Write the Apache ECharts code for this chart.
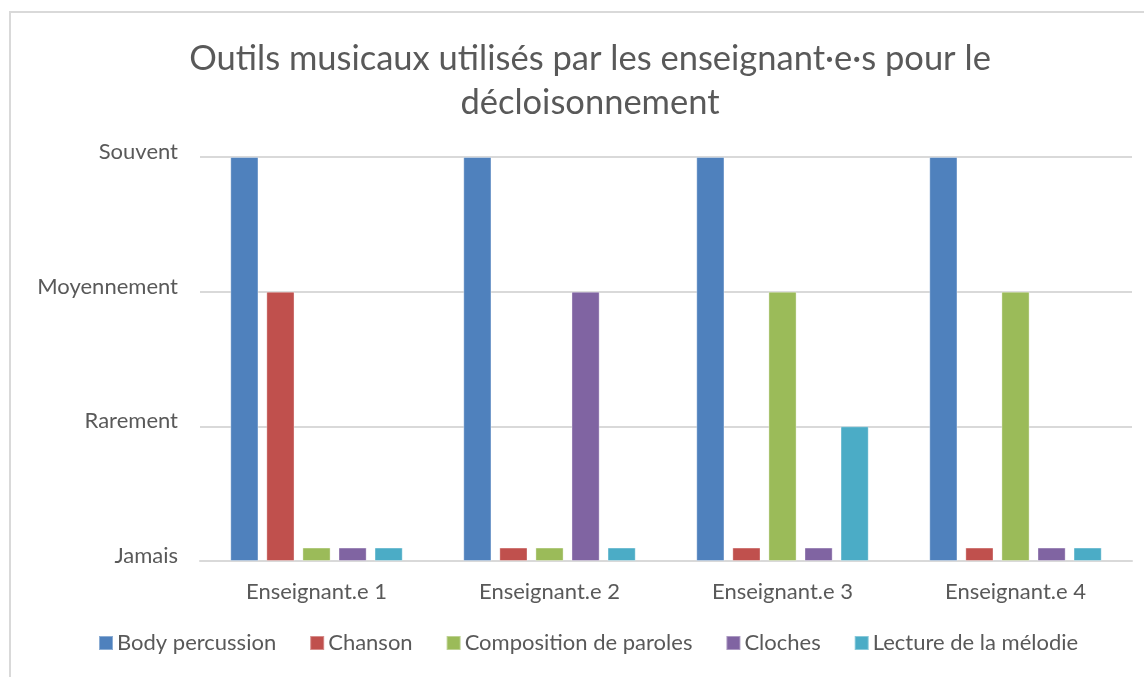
<!DOCTYPE html>
<html>
<head>
<meta charset="utf-8">
<script src="https://cdn.jsdelivr.net/npm/echarts@6/dist/echarts.min.js"></script>
<style>
  html, body { margin: 0; padding: 0; background: #fff; overflow: hidden; }
  #chart { width: 1144px; height: 677px; }
</style>
</head>
<body>
<div id="chart"></div>
<script>
// data
const teachers = ['Enseignant.e 1', 'Enseignant.e 2', 'Enseignant.e 3', 'Enseignant.e 4']
const levels = ['Jamais', 'Rarement', 'Moyennement', 'Souvent']
// 0.1 = "Jamais" stub as drawn in the original
const bodyPercussion = [3, 3, 3, 3]
const chanson = [2, 0.1, 0.1, 0.1]
const composition = [0.1, 0.1, 2, 2]
const cloches = [0.1, 2, 0.1, 0.1]
const lecture = [0.1, 0.1, 1, 0.1]

const seriesNames = ['Body percussion', 'Chanson', 'Composition de paroles', 'Cloches', 'Lecture de la mélodie']
const seriesData = [bodyPercussion, chanson, composition, cloches, lecture]
const colors = ['#4F81BD', '#C0504D', '#9BBB59', '#8064A2', '#4BACC6']

const font = 'Lato, "Open Sans", sans-serif'
const grey = '#595959'

const chart = echarts.init(document.getElementById('chart'))

chart.setOption({
  animation: false,
  color: colors,
  textStyle: { fontFamily: font },
  graphic: [{
    type: 'rect',
    shape: { x: 10, y: 12, width: 1160, height: 700 },
    style: { fill: 'none', stroke: '#d9d9d9', lineWidth: 2 },
    silent: true
  }],
  title: {
    text: 'Outils musicaux utilisés par les enseignant·e·s pour le\ndécloisonnement',
    left: 585,
    textAlign: 'center',
    top: 32,
    textStyle: { fontFamily: font, fontSize: 34.5, fontWeight: 'normal', color: grey, lineHeight: 44 }
  },
  legend: {
    bottom: 18,
    left: 93,
    itemWidth: 14,
    itemHeight: 14,
    itemGap: 33,
    icon: 'rect',
    textStyle: { fontFamily: font, fontSize: 22, color: grey, padding: [0, 0, 0, -1] },
    data: seriesNames
  },
  grid: { left: 200, right: 12, top: 157, bottom: 116 },
  xAxis: {
    type: 'category',
    data: teachers,
    axisLine: { lineStyle: { color: '#d9d9d9', width: 2 } },
    axisTick: { show: false },
    axisLabel: { fontFamily: font, fontSize: 22, color: grey, margin: 20 }
  },
  yAxis: {
    type: 'value',
    min: 0,
    max: 3,
    interval: 1,
    axisLine: { show: false },
    axisTick: { show: false },
    splitLine: { lineStyle: { color: '#d9d9d9', width: 2 } },
    axisLabel: {
      fontFamily: font, fontSize: 22, color: grey, margin: 22,
      verticalAlign: 'bottom', lineHeight: 10,
      formatter: v => levels[v] || ''
    }
  },
  series: seriesNames.map((name, i) => ({
    name,
    type: 'bar',
    data: seriesData[i],
    barGap: '28%',
    barCategoryGap: '26%',
    itemStyle: { borderColor: 'rgba(255,255,255,0.35)', borderWidth: 1 }
  }))
})
</script>
</body>
</html>
